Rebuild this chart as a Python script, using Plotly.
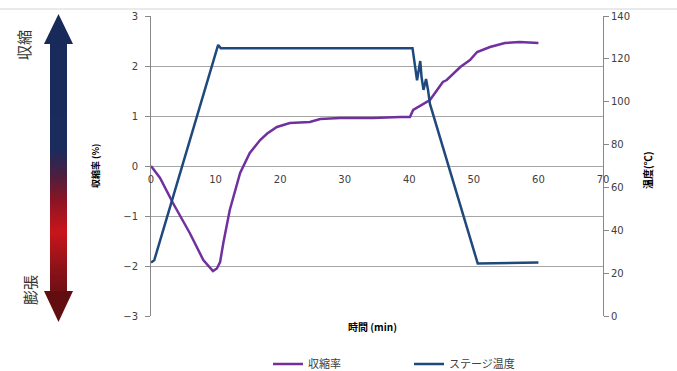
import plotly.graph_objects as go

# ---- data ----
shrink_time = [0, 1.4, 3.4, 6.0, 8.1, 9.0, 9.6, 10.2, 10.7, 11.2, 12.2, 13.8, 15.3, 16.9, 18.0,
               19.5, 21.5, 24.6, 26.2, 29.3, 34.4, 38.6, 40.1, 40.6, 43.2, 45.2, 45.8, 47.9,
               49.4, 50.5, 52.5, 54.8, 57.1, 60.0]
shrink_val = [0, -0.24, -0.74, -1.34, -1.88, -2.0, -2.1, -2.05, -1.92, -1.54, -0.88, -0.14, 0.26,
              0.52, 0.65, 0.78, 0.86, 0.88, 0.94, 0.96, 0.96, 0.98, 0.98, 1.12, 1.32, 1.68, 1.72,
              1.98, 2.12, 2.28, 2.38, 2.46, 2.48, 2.46]

temp_time = [0, 0.5, 10.4, 10.8, 40.5, 40.9, 41.2, 41.7, 41.9, 42.2, 42.6, 42.9, 43.2, 50.6, 60]
temp_val = [25, 26, 126.5, 125, 125, 114.8, 110, 119, 111.5, 105.5, 110.6, 105.5, 99, 24.5, 25]

x_ticks = [0, 10, 20, 30, 40, 50, 60, 70]
left_ticks = [-3, -2, -1, 0, 1, 2, 3]
right_ticks = [0, 20, 40, 60, 80, 100, 120, 140]

names = ["収縮率", "ステージ温度"]
PURPLE = "#7030a0"
BLUE = "#1f497d"

W, H = 677, 371
L, R, T, B = 151, 74, 16, 55
PW, PH = W - L - R, H - T - B


def px(x):
    return (x - L) / PW


def py(y):
    return 1 - (y - T) / PH


fig = go.Figure()
fig.add_trace(go.Scatter(x=shrink_time, y=shrink_val, mode="lines", name=names[0],
                         line=dict(color=PURPLE, width=2.5), yaxis="y"))
fig.add_trace(go.Scatter(x=temp_time, y=temp_val, mode="lines", name=names[1],
                         line=dict(color=BLUE, width=2.5), yaxis="y2"))

tickfont = dict(family="DejaVu Sans", size=10, color="#404040")

fig.update_layout(
    width=W, height=H,
    margin=dict(l=L, r=R, t=T, b=B, autoexpand=False),
    paper_bgcolor="white", plot_bgcolor="white",
    xaxis=dict(range=[0, 70], tickvals=x_ticks, showgrid=False, zeroline=False,
               anchor="free", position=0.5, showline=False, ticks="",
               ticklabelstandoff=6, tickfont=tickfont),
    yaxis=dict(range=[-3, 3], tickvals=left_ticks, showgrid=True, gridcolor="#a6a6a6",
               gridwidth=1, zeroline=False, showline=True, linecolor="#888888",
               ticks="outside", ticklen=5, tickcolor="#888888", ticklabelstandoff=5,
               tickfont=tickfont),
    yaxis2=dict(range=[0, 140], tickvals=right_ticks, overlaying="y", side="right",
                showgrid=False, zeroline=False, showline=True, linecolor="#888888",
                ticks="outside", ticklen=5, tickcolor="#888888", tickfont=tickfont),
    legend=dict(orientation="h", x=px(268), xanchor="left", y=py(364), yanchor="middle",
                entrywidth=96, entrywidthmode="pixels",
                font=dict(family="Noto Sans CJK JP", size=11, color="#404040"),
                bgcolor="rgba(0,0,0,0)"),
    showlegend=True,
)


def note(x, y, text, size, angle=0, color="black"):
    fig.add_annotation(x=px(x), y=py(y), xref="paper", yref="paper", text=text,
                       textangle=angle, showarrow=False, xanchor="center", yanchor="middle",
                       font=dict(family="Noto Sans CJK JP", size=size, color=color))


# axis titles
note(95, 166, "<b>収縮率 (%)</b>", 9, -90)
note(647, 170, "<b>温度(℃)</b>", 10, -90)
note(372, 326, "<b>時間 (min)</b>", 10)

# side labels
note(23, 45, "収縮", 15, -90, "#333333")
note(29, 290, "膨張", 15, -90, "#333333")

# outer light border line at top
fig.add_shape(type="line", xref="paper", yref="paper", x0=px(0), x1=px(677), y0=py(9), y1=py(9),
              line=dict(color="#d4d4d4", width=1))

# gradient double arrow
stops = [(14, (24, 42, 90)), (150, (26, 44, 92)), (175, (74, 31, 64)), (200, (138, 21, 37)),
         (232, (200, 21, 27)), (270, (138, 18, 24)), (322, (78, 12, 14))]


def col_at(y):
    for (y0, c0), (y1, c1) in zip(stops[:-1], stops[1:]):
        if y0 <= y <= y1:
            f = (y - y0) / (y1 - y0)
            return "rgb(%d,%d,%d)" % tuple(round(a + (b - a) * f) for a, b in zip(c0, c1))
    return "rgb(%d,%d,%d)" % stops[-1][1]


yy = 42
while yy < 291:
    fig.add_shape(type="rect", xref="paper", yref="paper", x0=px(50), x1=px(67),
                  y0=py(yy), y1=py(min(yy + 5, 293)), line=dict(width=0),
                  fillcolor=col_at(yy + 1))
    yy += 2


def tri(xa, ya, xb, yb, xc, yc):
    return "M %f %f L %f %f L %f %f Z" % (px(xa), py(ya), px(xb), py(yb), px(xc), py(yc))


fig.add_shape(type="path", xref="paper", yref="paper", path=tri(58.5, 14, 44, 44, 73, 44),
              fillcolor=col_at(20), line=dict(width=0))
fig.add_shape(type="path", xref="paper", yref="paper", path=tri(58.5, 322, 44, 291, 73, 291),
              fillcolor=col_at(305), line=dict(width=0))

fig.write_html("out.html")
